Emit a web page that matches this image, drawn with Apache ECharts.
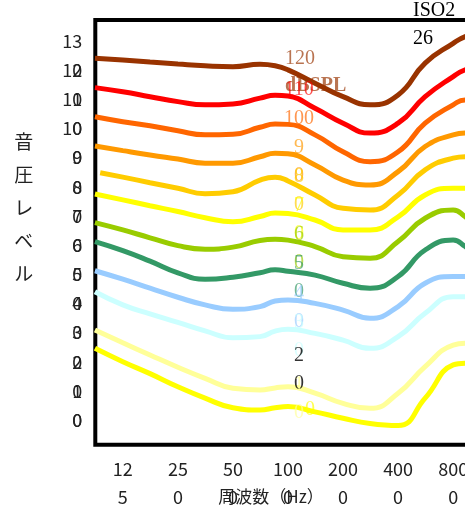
<!DOCTYPE html>
<html><head><meta charset="utf-8">
<script src="https://cdn.jsdelivr.net/npm/echarts@6/dist/echarts.min.js"></script>
<style>html,body{margin:0;padding:0;background:#fff}#c{width:465px;height:508px}</style>
</head><body><div id="c"></div>
<script>
// frequencies (Hz) at which the contours were read
const freqs   = [88, 125, 176, 250, 352, 500, 703, 850, 1000, 1405, 2000, 2810, 4000, 5620, 8000, 9310, 11000];
const freqs80 = [94, 125, 176, 250, 352, 500, 703, 850, 1000, 1405, 2000, 2810, 4000, 5620, 8000, 9310, 11000];
// sound pressure level (dB SPL) of each contour
const phon120 = [124.1, 123.5, 122.8, 122.1, 121.5, 121.2, 122.0, 121.5, 120.1, 115.5, 110.9, 108.1, 111.5, 122.4, 129.2, 131.5, 132.5];
const phon110 = [114.0, 112.6, 110.9, 109.2, 108.1, 108.4, 110.4, 111.4, 111.1, 106.9, 101.8, 98.4, 101.8, 110.9, 117.8, 120.1, 121.0];
const phon100 = [104.0, 102.3, 100.9, 99.2, 97.8, 98.0, 100.4, 101.5, 101.4, 97.8, 92.0, 88.6, 92.0, 101.8, 108.1, 109.8, 109.5];
const phon90  = [94.0, 92.4, 90.9, 89.5, 88.1, 88.1, 90.3, 91.5, 91.3, 87.5, 82.3, 80.6, 85.2, 93.8, 97.8, 98.4, 98.0];
const phon80  = [84.8, 83.3, 81.4, 79.5, 77.6, 78.3, 82.3, 83.3, 82.0, 77.2, 72.6, 72.0, 77.2, 85.8, 89.8, 90.3, 89.5];
const phon70  = [77.5, 75.5, 73.5, 71.5, 69.4, 68.0, 69.8, 71.0, 70.8, 68.6, 65.2, 65.2, 69.7, 77.2, 79.5, 79.5, 79.0];
const phon60  = [67.7, 65.2, 62.5, 59.8, 58.6, 59.3, 61.6, 62.0, 61.7, 59.5, 56.0, 55.5, 61.2, 69.2, 72.0, 69.7, 66.0];
const phon50  = [61.2, 58.1, 54.5, 50.5, 48.3, 49.0, 50.5, 51.5, 51.0, 49.7, 46.9, 45.2, 49.2, 58.3, 61.7, 59.5, 56.0];
const phon40  = [51.2, 48.3, 45.2, 42.1, 39.5, 38.0, 38.9, 40.8, 41.2, 40.0, 37.7, 34.9, 38.9, 46.9, 49.2, 49.2, 48.0];
const phon30  = [44.0, 39.5, 36.4, 33.5, 30.6, 28.2, 28.6, 30.5, 31.1, 29.7, 27.4, 24.6, 28.6, 36.6, 42.3, 42.3, 39.0];
const phon10  = [30.9, 26.5, 22.3, 18.1, 14.3, 10.9, 10.3, 11.0, 11.4, 9.2, 5.7, 4.0, 9.2, 18.3, 25.7, 26.3, 26.0];
const phon0   = [24.6, 20.0, 15.9, 11.4, 7.5, 4.2, 3.4, 4.2, 4.6, 2.8, 0.6, -1.2, -1.9, 7.5, 18.9, 19.5, 19.0];

const tickFreqs = [125, 250, 500, 1000, 2000, 4000, 8000];
const yTicks = [0, 10, 20, 30, 40, 50, 60, 70, 80, 90, 100, 110, 120, 130];

const labelPhons  = [120, 110, 100, 90, 80, 70, 60, 50, 40, 30, 20, 10, 0];
const labelColors = ['#993300','#ff0000','#ff6600','#ff9900','#ffcc00','#ffff00','#99cc00','#339966','#99ccff','#ccffff','#000000','#ffff99','#ffff00'];
const labelFreq = 1150;
const unitText = 'dBSPL';
const titleText = 'ISO226';
const xName = '周波数（Hz）';
const yName = '音圧レベル';

const curves = [
  {f: freqs,   v: phon120, c: '#993300'},
  {f: freqs,   v: phon110, c: '#ff0000'},
  {f: freqs,   v: phon100, c: '#ff6600'},
  {f: freqs,   v: phon90,  c: '#ff9900'},
  {f: freqs80, v: phon80,  c: '#ffcc00'},
  {f: freqs,   v: phon70,  c: '#ffff00'},
  {f: freqs,   v: phon60,  c: '#99cc00'},
  {f: freqs,   v: phon50,  c: '#339966'},
  {f: freqs,   v: phon40,  c: '#99ccff'},
  {f: freqs,   v: phon30,  c: '#ccffff'},
  {f: freqs,   v: phon10,  c: '#ffff99'},
  {f: freqs,   v: phon0,   c: '#ffff00'}
];

const oct = f => Math.log2(f / 1000);
const wrapTail = s => s.length > 1 ? s.slice(0, -1) + '\n' + s.slice(-1) : s;
function rgba(hex, a) {
  const n = parseInt(hex.slice(1), 16);
  return 'rgba(' + (n >> 16 & 255) + ',' + (n >> 8 & 255) + ',' + (n & 255) + ',' + a + ')';
}
const SANS = 'Noto Sans CJK JP';
const SERIF = 'Liberation Serif';

const lineSeries = curves.map(cv => ({
  type: 'line', smooth: 0.5, showSymbol: false, silent: true,
  lineStyle: {width: 5, color: cv.c},
  itemStyle: {color: cv.c},
  data: cv.f.map((f, i) => [oct(f), cv.v[i]])
}));

const labelData = labelPhons.map((p, i) => {
  const s = String(p);
  let text = s.length === 2 ? wrapTail(s) : s;
  const col = rgba(labelColors[i], labelColors[i] === '#000000' ? 1 : 0.85);
  const lines = (i === 0 ? 2 : text.split('\n').length);
  const lbl = {
    show: true, position: 'inside', color: col, fontFamily: SERIF, fontSize: 20, lineHeight: 28,
    offset: [p === 0 ? 11 : 0, (lines - 1) * 14 - 10 + (p === 20 || p === 10 ? 4 : 0)]
  };
  if (i === 0) {
    text = s + '\n{b|' + unitText + '}';
    lbl.align = 'left';
    lbl.offset = [-14, 2];
    lbl.rich = {b: {fontFamily: SERIF, fontSize: 20, fontWeight: 'bold', lineHeight: 27, color: col}};
  }
  lbl.formatter = () => text;
  return {value: [oct(labelFreq), p], label: lbl};
});

const chart = echarts.init(document.getElementById('c'), null, {renderer: 'canvas'});
chart.setOption({
  animation: false,
  backgroundColor: '#ffffff',
  title: {
    text: titleText.slice(0, 4) + '\n' + titleText.slice(4), left: 413, top: -3, padding: 0,
    textStyle: {fontFamily: SERIF, fontSize: 20, fontWeight: 'normal', lineHeight: 27.5, color: '#000'}
  },
  grid: {left: 95.3, top: 20, right: -15.7, bottom: 63.3, containLabel: false, outerBoundsMode: 'none',
         show: true, borderColor: '#000', borderWidth: 4, backgroundColor: 'transparent'},
  xAxis: {
    type: 'value', min: -3.5, max: 3.5, splitNumber: 7,
    axisLine: {show: false}, axisTick: {show: false}, splitLine: {show: false},
    axisLabel: {
      margin: 10, fontSize: 18, lineHeight: 28, color: '#222', fontFamily: SANS,
      showMinLabel: false, showMaxLabel: false,
      formatter: v => {
        const k = Math.round(v);
        if (Math.abs(v - k) > 1e-6) return '';
        const f = Math.round(1000 * Math.pow(2, k));
        return tickFreqs.indexOf(f) >= 0 ? wrapTail(String(f)) : '';
      }
    },
    name: xName, nameLocation: 'middle', nameGap: 42, nameMoveOverlap: false,
    nameTextStyle: {fontSize: 17, lineHeight: 20, color: '#222', fontFamily: SANS, padding: [0, 34, 0, 0]}
  },
  yAxis: {
    type: 'value', min: -8.47, max: 137.2, splitNumber: 14,
    axisLine: {show: false}, axisTick: {show: false}, splitLine: {show: false},
    axisLabel: {
      margin: 13, fontSize: 18, lineHeight: 29.15, color: '#222', fontFamily: SANS,
      showMinLabel: false, showMaxLabel: false,
      formatter: v => {
        if (yTicks.indexOf(v) < 0) return '';
        const s = String(v);
        return ' \n' + (s.length > 1 ? wrapTail(s) : s + '\n ');
      }
    },
    name: yName.split('').join('\n') + '\n{s| }', nameLocation: 'middle', nameRotate: 0, nameGap: 62, nameMoveOverlap: false,
    nameTextStyle: {fontSize: 19, lineHeight: 33, color: '#222', fontFamily: SANS,
                    rich: {s: {fontSize: 19, lineHeight: 50}}}
  },
  series: lineSeries.concat([{
    type: 'scatter', symbolSize: 1, silent: true, z: 5,
    itemStyle: {color: 'rgba(0,0,0,0)'},
    data: labelData
  }])
});
</script></body></html>
